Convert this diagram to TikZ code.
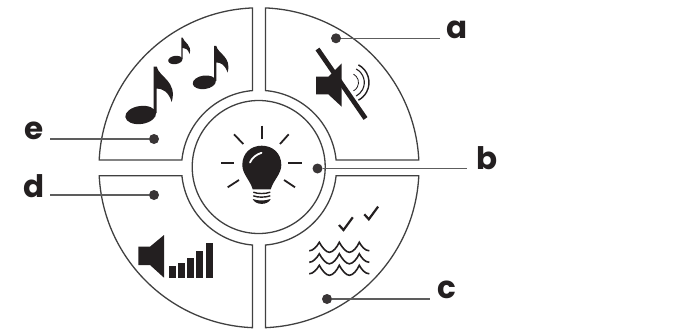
\documentclass[tikz,border=0pt]{standalone}
\usepackage{fontspec}
\setmainfont{Poppins}
\usepackage{xcolor}
\usetikzlibrary{positioning}
\definecolor{inkdark}{HTML}{231F20}
\definecolor{rimgray}{HTML}{404040}
\tikzset{
  rim/.style={draw=rimgray, line width=1.3pt},
  leader/.style={draw=rimgray!85, line width=1.3pt},
  dotnode/.style={circle, fill=inkdark!90, inner sep=0pt, minimum size=10pt},
  letter/.style={font=\fontsize{31}{31}\selectfont\bfseries, text=inkdark, inner sep=0pt},
  ray/.style={draw=inkdark, line width=1.8pt},
  wave/.style={draw=inkdark, line width=1.6pt},
}
\begin{document}
\begin{tikzpicture}[x=1pt, y=-1pt]
\useasboundingbox (0,0) rectangle (687,329);
% four quarter pieces
\begin{scope}[shift={(259,167.8)}]
\foreach \a/\b/\c/\d in {2.83/87.67/5.85/85.19, 92.33/177.17/94.81/174.15, 182.83/267.67/185.85/265.19, 272.33/357.17/274.81/354.15} {
    \draw[rim] (\a:160pt) arc[start angle=\a, end angle=\b, radius=160pt] -- (\d:77.5pt) arc[start angle=\d, end angle=\c, radius=77.5pt] -- cycle;
}
\end{scope}
\node[circle, rim, minimum size=133pt, inner sep=0pt] (bulbring) at (258.7,167) {};
% lamp
\fill[inkdark] (252.7,189.3) .. controls (250,180) and (242.3,174) .. (242.3,165) .. controls (242.3,153) and (251,145.7) .. (261.7,145.7) .. controls (272.5,145.7) and (281.3,153) .. (281.3,165) .. controls (281.3,174) and (273.5,180) .. (270.7,189.3) -- cycle;
\draw[white, line width=1.8pt, line cap=round] (250,162.5) .. controls (252,158) and (256,154.5) .. (261.5,152.8);
\draw[inkdark, line width=1.4pt] (253.3,192.2) .. controls (258,194) and (265,194) .. (270.3,192.2);
\draw[inkdark, line width=1.4pt] (253.3,195.8) .. controls (258,197.6) and (265,197.6) .. (270.3,195.8);
\fill[inkdark] (252.7,199) .. controls (258,201) and (265,201) .. (270.7,199) .. controls (268,205.5) and (255.5,205.5) .. (252.7,199) -- cycle;
\foreach \xa/\ya/\xb/\yb in {262/125.7/262/139, 280/144/288.7/134.3, 288.3/162.7/301.7/162.7, 284/180/295/187.3, 227.7/187.3/239/180, 221/162.7/234.3/162.7, 234/134.3/243.3/144} {
    \draw[ray] (\xa,\ya) -- (\xb,\yb);
}
% notes
\foreach \x/\y/\s in {140.7/115/1, 204.3/82.3/0.75, 175.3/60/0.46} {
    \begin{scope}[shift={(\x,\y)}, scale=\s]
    \fill[inkdark, rotate=8] (0,0) ellipse[x radius=15.5pt, y radius=9pt];
    \fill[inkdark] (13,-2) -- (13,-48.5) -- (16,-48.5) .. controls (18,-38) and (37,-34) .. (31,-13) .. controls (28,-23) and (22,-26.5) .. (16,-26.5) -- (16,-2) -- cycle;
    \end{scope}
}
% muted speaker
\fill[inkdark] (316,76.7) -- (328.3,76.7) -- (341.7,63.3) -- (341.7,106.7) -- (328.3,94.3) -- (316,94.3) -- cycle;
\draw[inkdark, line width=4.8pt] (317.5,49) -- (365.5,118.5);
\draw[inkdark, line width=1.4pt] (349,82.5) ++(62:20pt) arc[start angle=62, end angle=-62, radius=20pt];
\draw[inkdark, line width=1.1pt] (349,82.5) ++(62:15.3pt) arc[start angle=62, end angle=-62, radius=15.3pt];
\draw[inkdark, line width=0.8pt] (349,82.5) ++(62:9.5pt) arc[start angle=62, end angle=-62, radius=9.5pt];
% birds and water
\foreach \x/\y in {339/225, 364.3/214.3} {
    \draw[inkdark, line width=2.2pt] (\x,\y) -- ++(4.5,5) -- ++(9.3,-12.7);
}
\foreach \y in {242.3, 253.8, 265.3} {
    \draw[wave] (309.3,\y+8.5) .. controls (313,\y+8.5) and (317,\y+4) .. (319.3,\y) .. controls (322,\y+5) and (326,\y+10) .. (329.3,\y+10) .. controls (333,\y+10) and (337,\y+5) .. (339.3,\y) .. controls (342,\y+5) and (346,\y+10) .. (349.3,\y+10) .. controls (353,\y+10) and (357,\y+5) .. (359.3,\y) .. controls (361.5,\y+4) and (365,\y+8.5) .. (369.3,\y+8.5);
}
% speaker with bars
\fill[inkdark] (138.3,246.7) -- (150,246.7) -- (164,235) -- (164,277.7) -- (150,265) -- (138.3,265) -- cycle;
\foreach \xa/\xb/\top in {169/176/266.3, 178.3/185/263.3, 187.3/194/258.3, 196/203.3/251.3, 206/213/243.3} {
    \fill[inkdark] (\xa,\top) rectangle (\xb,278.3);
}
% callouts
\node[dotnode] (adot) at (336,38.3) {};
\node[dotnode] (bdot) at (317.5,168.5) {};
\node[dotnode] (cdot) at (327,299) {};
\node[dotnode] (ddot) at (154,195) {};
\node[dotnode] (edot) at (154,139) {};
\coordinate (aend) at (440,38.3);
\coordinate (bend) at (467,168.5);
\coordinate (cend) at (430,299);
\coordinate (dend) at (50,195);
\coordinate (eend) at (50,139);
\node[letter] (alabel) at (457,30) {a};
\node[letter] (blabel) at (487,158) {b};
\node[letter] (clabel) at (447,290) {c};
\node[letter] (dlabel) at (34,186) {d};
\node[letter] (elabel) at (34,131) {e};
\foreach \n in {a, b, c, d, e} {
    \draw[leader] (\n dot) -- (\n end);
}
\end{tikzpicture}
\end{document}
